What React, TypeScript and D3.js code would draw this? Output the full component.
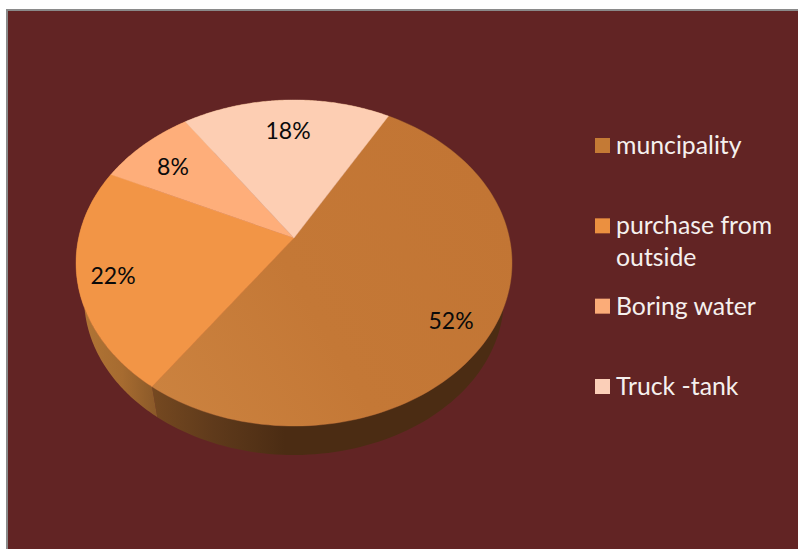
import React from "react";
import * as d3 from "d3";

const categories = ["muncipality", "purchase from outside", "Boring water", "Truck -tank"];
const legendLines = [["muncipality"], ["purchase from", "outside"], ["Boring water"], ["Truck -tank"]];
const shares = [51.5, 22.2, 8.4, 17.9];
const topColors = ["url(#top0)", "#F29546", "#FEAE7A", "#FDCEB3"];
const swatchColors = ["#C47A35", "#EB9040", "#FBAC78", "#FBCFB8"];
const sideColors = ["url(#side0)", "url(#side1)", "#b87a3a", "#b87a3a"];
const labelSpots = [[451, 321], [113, 276], [173, 167], [288, 131]];

const W = 798, H = 549;
const apex = { x: 294, y: 238 };
const A = 215.4, B = 159.2, K = 0.1533;
const ellipseCy = 263, depth = 35, shrink = 0.963;
const start = (29.8 * Math.PI) / 180;

const project = (t: number) => {
  const u = Math.sin(t), v = -Math.cos(t), w = 1 - K * v;
  return [apex.x + (A * u) / w, apex.y + (B * v) / w] as [number, number];
};
const lower = (p: [number, number]) =>
  [apex.x + (p[0] - apex.x) * shrink, ellipseCy + depth + (p[1] - ellipseCy) * shrink] as [number, number];

const arcs = d3
  .pie<number>()
  .sort(null)
  .startAngle(start)
  .endAngle(start + 2 * Math.PI)(shares);

const line = d3.line().curve(d3.curveLinear);
const samples = (a: number, b: number) => d3.range(0, 121).map((i) => project(a + ((b - a) * i) / 120));

const legendY = d3.scaleLinear().domain([0, 3]).range([138, 379]);

export default function App() {
  return (
    <svg
      width={W}
      height={H}
      viewBox={`0 0 ${W} ${H}`}
      style={{ position: "absolute", left: 0, top: 0, display: "block" }}
    >
      <defs>
        <linearGradient id="top0" gradientUnits="userSpaceOnUse" x1={160} y1={400} x2={500} y2={200}>
          <stop offset="0" stopColor="#CB823F" />
          <stop offset="0.45" stopColor="#C47836" />
          <stop offset="1" stopColor="#C27534" />
        </linearGradient>
        <linearGradient id="side0" gradientUnits="userSpaceOnUse" x1={155} y1={0} x2={285} y2={0}>
          <stop offset="0" stopColor="#744820" />
          <stop offset="0.45" stopColor="#5F3A1B" />
          <stop offset="1" stopColor="#4B2C13" />
        </linearGradient>
        <linearGradient id="side1" gradientUnits="userSpaceOnUse" x1={85} y1={0} x2={160} y2={0}>
          <stop offset="0" stopColor="#B07435" />
          <stop offset="0.5" stopColor="#A66B30" />
          <stop offset="1" stopColor="#875728" />
        </linearGradient>
      </defs>
      <rect width={W} height={H} fill="#FFFFFF" />
      <rect x={6} y={9} width={W - 6} height={H - 9} fill="#8A8A8A" />
      <rect x={8} y={11} width={W - 8} height={H - 11} fill="#622424" />

      {arcs.map((d, i) => {
        const rim = samples(d.startAngle, d.endAngle);
        return (
          <path
            key={`side-${categories[i]}`}
            d={line([...rim, ...rim.map(lower).reverse()]) + "Z"}
            fill={sideColors[i]}
          />
        );
      })}
      {arcs.map((d, i) => (
        <path
          key={`top-${categories[i]}`}
          d={line([[apex.x, apex.y], ...samples(d.startAngle, d.endAngle)]) + "Z"}
          fill={topColors[i]}
          stroke={topColors[i]}
          strokeWidth={0.4}
        />
      ))}

      <g fontFamily="Lato, 'Open Sans', sans-serif" fontSize={23}>
        {shares.map((s, i) => (
          <text key={`pct-${i}`} x={labelSpots[i][0]} y={labelSpots[i][1] + 8} textAnchor="middle" fill="#0A0A0A">
            {Math.round(s)}%
          </text>
        ))}
        {categories.map((c, i) => (
          <g key={c}>
            <rect x={595} y={legendY(i)} width={15} height={15} fill={swatchColors[i]} />
            {legendLines[i].map((t, j) => (
              <text key={t} x={616} y={legendY(i) + 16 + j * 32} fill="#F5F0EE" fontSize={24.8}>
                {t}
              </text>
            ))}
          </g>
        ))}
      </g>
    </svg>
  );
}
